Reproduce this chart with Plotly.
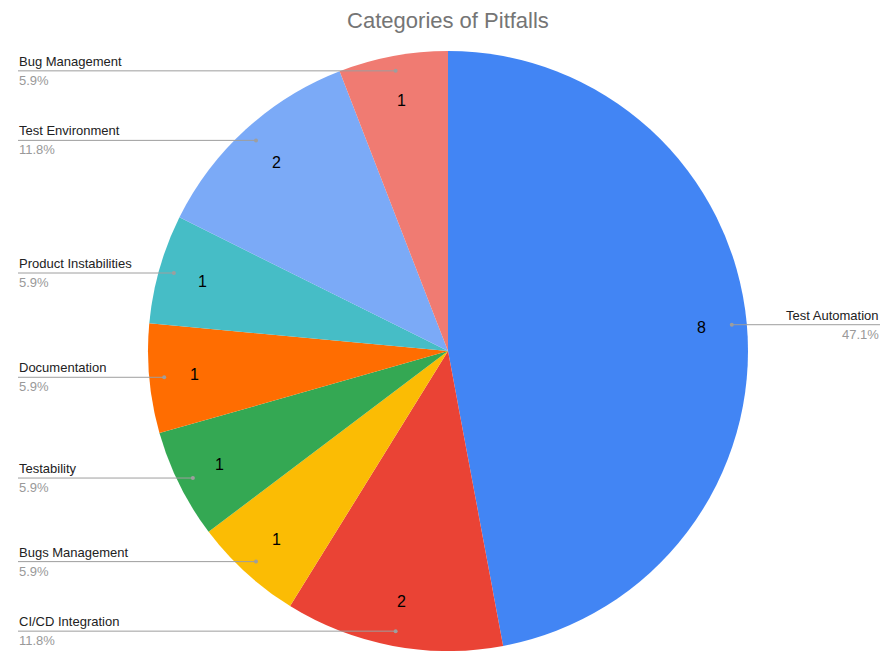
import math
import plotly.graph_objects as go

categories = ["Test Automation", "CI/CD Integration", "Bugs Management", "Testability",
              "Documentation", "Product Instabilities", "Test Environment", "Bug Management"]
values = [8, 2, 1, 1, 1, 1, 2, 1]
colors = ["#4285F4", "#EA4335", "#FBBC04", "#34A853", "#FF6D01", "#46BDC6", "#7BAAF7", "#F07B72"]

OFF = 8  # page offset of the figure (body margin)
W, H = 890 - OFF, 651 - OFF
CX, CY, R = 448, 351, 300  # in page pixels
FONT = "Liberation Sans, Arial, sans-serif"

def px(x):
    return (x - OFF) / W

def py(y):
    return (H - (y - OFF)) / H

fig = go.Figure(go.Pie(
    labels=categories, values=values, sort=False, direction="clockwise", rotation=0,
    marker=dict(colors=colors, line=dict(width=0)),
    textinfo="none", hoverinfo="skip",
    domain=dict(x=[px(CX - R), px(CX + R)], y=[max(0, py(CY + R)), min(1, py(CY - R))]),
))

total = sum(values)
cum = 0
annotations = []
shapes = []
for name, v in zip(categories, values):
    mid = (cum + v / 2) / total * 2 * math.pi
    cum += v
    s, c = math.sin(mid), math.cos(mid)
    tx, ty = CX + 0.85 * R * s, CY - 0.85 * R * c
    annotations.append(dict(x=px(tx), y=py(ty), xref="paper", yref="paper", text=str(v),
                            showarrow=False, xanchor="center", yanchor="middle",
                            font=dict(family=FONT, size=16, color="#000000")))
    dx, dy = CX + 0.95 * R * s, CY - 0.95 * R * c
    shapes.append(dict(type="circle", xref="paper", yref="paper",
                       x0=px(dx - 2), x1=px(dx + 2), y0=py(dy + 2), y1=py(dy - 2),
                       fillcolor="#9e9e9e", line=dict(width=0)))
    pct = f"{v / total * 100:.1f}%"
    if s > 0:
        lx, anchor = 880, "right"
    else:
        lx, anchor = 18, "left"
    shapes.append(dict(type="line", xref="paper", yref="paper",
                       x0=px(lx), x1=px(dx), y0=py(dy), y1=py(dy),
                       line=dict(color="#9e9e9e", width=1)))
    annotations.append(dict(x=px(lx), y=py(dy - 1), xref="paper", yref="paper", text=name,
                            showarrow=False, xanchor=anchor, yanchor="bottom",
                            font=dict(family=FONT, size=13, color="#222222"),
                            borderpad=0))
    annotations.append(dict(x=px(lx), y=py(dy + 1), xref="paper", yref="paper", text=pct,
                            showarrow=False, xanchor=anchor, yanchor="top",
                            font=dict(family=FONT, size=13, color="#999999"),
                            borderpad=0))

fig.update_layout(
    width=W, height=H,
    margin=dict(l=0, r=0, t=0, b=0),
    paper_bgcolor="white", plot_bgcolor="white",
    showlegend=False,
    title=dict(text="Categories of Pitfalls", x=px(448), xanchor="center",
               y=1 - (20 - OFF) / H, yanchor="middle", yref="container",
               font=dict(family=FONT, size=22, color="#757575")),
    annotations=annotations,
    shapes=shapes,
)

fig.write_html("out.html")
